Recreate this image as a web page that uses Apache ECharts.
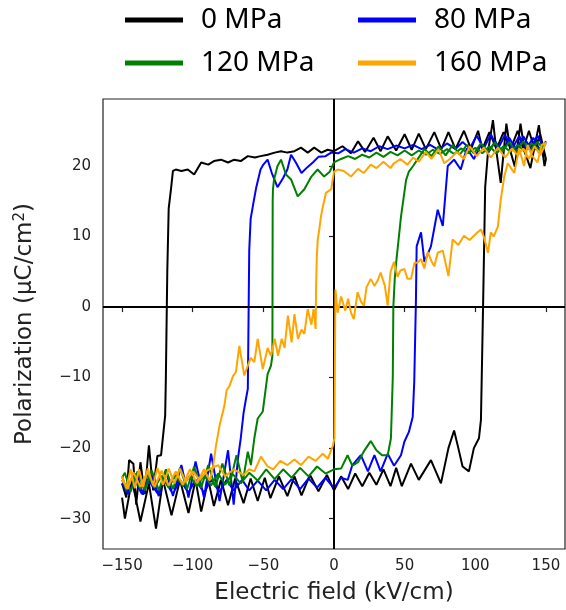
<!DOCTYPE html>
<html>
<head>
<meta charset="utf-8">
<script src="https://cdn.jsdelivr.net/npm/echarts@6/dist/echarts.min.js"></script>
<style>
html, body { margin: 0; padding: 0; background: #fff; }
#chart { width: 566px; height: 610px; }
</style>
</head>
<body>
<div id="chart"></div>
<script>
// P-E loops: field in kV/cm, polarization in uC/cm2
// each loop: rising branch from -150 to 150, then falling branch back to -150
var field0 = [-150,-148,-143,-137,-131,-126,-121,-115,-109,-103,-98,-94,-89,-85,-80,-75,-70,-64,-59,-54,-49,-45,-39,-33,-28,-23,-17,-11,-5,0,5,10,15,20,25,30,35,40,44,48,54.5,60,68.6,75.7,81,85,88,91,95.5,99,102.6,104,105.5,107,109,112.5,115,118,122,125,128,132,135,139,145,149,150,
  146,142,138,134,130,125,120,115,110,105,102,97,92,86,81,76,71,65,60,55,50,44,38,33,28,22,17,12,6,0,-4.5,-9,-14,-18.6,-23.4,-28,-33,-37.5,-42,-47,-52,-56,-61,-66,-70.6,-75,-80,-85,-89,-94,-99,-103.5,-108,-112,-114,-115.4,-117,-118,-119,-119.5,-122.4,-125,-128,-131,-134,-137,-140,-142,-145,-147,-150];
var pol0 = [-27,-30,-24.5,-30.4,-25,-31.4,-24.5,-29.5,-24.5,-29.2,-24.5,-29,-24.5,-28.2,-24.5,-28.1,-24.3,-27.8,-24.3,-27.5,-24.2,-27.1,-24,-26.8,-24,-26.7,-23.8,-26.1,-23.8,-26,-24,-25.8,-23.6,-25.4,-23.5,-25.2,-23,-25.4,-22.8,-25.4,-22.2,-24.5,-21.7,-25,-20,-17.5,-20,-22.6,-23.3,-20,-18.6,-16,0,17,22,26.5,22,17.6,26,22,19.9,26,22,19.7,25.8,20,21,
  24.5,22.3,25,22.4,25,22.4,24.8,22.4,24.8,22.4,25,22.4,25,22.4,24.8,22.4,24.8,22.4,24.6,22.3,24.5,22.2,24.2,22.1,24,22,23.5,21.8,22.8,22.1,22.3,21.9,22.6,21.9,22.6,22.1,21.9,22.1,21.9,21.6,21.4,21.2,21.4,20.7,20.9,20.5,20.9,20.7,20.2,20.5,18.8,19.5,19.3,19.5,19.3,16.7,14,5,-10,-15.4,-21,-21.1,-26,-19.6,-26.5,-22,-28,-22.2,-21.7,-27,-25];

var field80 = [-150,-146,-141,-136,-131,-125,-120,-114,-109,-103,-98,-92,-87,-81,-76,-71,-65,-60,-54,-48,-42,-36,-30,-24,-18,-12,-6,0,5,9.7,13,19,24,28.6,33,38,42.5,47.4,49.8,53,55.7,56.8,58,58.5,61.6,64,68.6,73.4,77,80.5,85,89.7,94,99,104,109,114,119,124,129,134,139,144,148,150,
  146,141,136,131,126,121,116,111,106,101,96,91,86,80,74,68,62,56,50,44,38,32,26,20,14,8,3,-2,-6,-11,-15,-19,-23,-27,-30.4,-33,-36,-40,-44,-47,-50,-52,-55,-57,-59,-60,-60.5,-61,-62.3,-64,-66,-68,-71,-75,-81,-87,-92,-98,-103,-108,-114,-119,-124,-130,-135,-140,-145,-150];
var pol80 = [-25,-26.5,-24.5,-26.5,-24.6,-26.4,-24.5,-26.5,-24.5,-26.3,-24.5,-26.3,-24.5,-26.2,-24.5,-26,-24.5,-26,-24.6,-26,-24.5,-25.8,-24.4,-25.8,-24.3,-25.6,-24.2,-25.7,-24.2,-24.5,-22.4,-21,-23.3,-21,-23.3,-20.8,-22.5,-21,-19.1,-17.7,-15.6,-10.6,1,8.6,10.6,6.4,8.6,13.8,11.5,20,20.9,19.5,22.5,21,23,21.8,23.5,22,24,22.3,24.2,22.5,24.3,22.8,23.5,
  22.2,24,22.4,24.2,22.4,24.4,22.4,24.5,22.5,24.3,22.5,23.4,22.4,23.2,22.3,23,22.4,23,22.5,22.9,22.4,22.8,22.1,22.5,21.9,22.4,21.8,21.9,21.4,21.3,20.5,19.8,19,20.5,21.6,19.5,18.3,17,19,20.9,20.2,19.5,17,14.8,12.5,8,-2,-11.6,-13,-15,-18.6,-21.5,-28,-20.3,-27.5,-20.8,-27,-21.9,-27,-22.4,-26.8,-23.2,-26.8,-23.4,-26.6,-23.6,-26.2,-24.5];

var field120 = [-150,-147,-142,-137,-132,-127,-122,-117,-112,-107,-102,-97,-92,-87,-82,-77,-72,-66,-60,-54,-48,-42,-36,-30,-24,-18,-12,-6,0,5,9.6,13,17,21,26,30,34,38,40.3,41.6,42,43,44,47.4,51,53,56,59,64,69,74,79,84,89,94,99,104,109,114,119,124,129,134,139,144,148,150,
  145,140,135,130,125,120,115,110,105,100,95,90,85,80,75,70,65,60,55,50,45,40,35,30,25,20,15,10,5,0,-3,-7,-11.6,-16,-21,-25.7,-30.4,-34,-37.5,-40,-42.5,-43.2,-43.4,-43.5,-43.6,-44.6,-47,-50.4,-54,-56.4,-58.8,-61,-64.6,-69,-74,-79,-84,-89,-94,-99,-104,-109,-114,-119,-124,-129,-134,-139,-144,-148,-150];
var pol120 = [-24,-26,-23.8,-25.8,-23.8,-25.6,-23.9,-25.6,-23.8,-25.4,-23.9,-25.4,-23.8,-25.3,-23.6,-25.2,-23.6,-25,-23.5,-24.6,-23,-24.4,-23,-24.2,-22.8,-24,-22.6,-23.6,-23,-22.9,-21,-22.5,-22,-20.5,-19,-20.3,-21,-21,-18.6,-10,0,4,6.3,12.8,18,19.2,20,20.9,22.4,21.4,22.8,21.5,23,21.6,23,21.8,23.2,22,23.3,22,23.4,22,23.5,22.2,23.4,22.5,23.3,
  22.3,23.2,22,23,22,22.8,21.8,22.8,21.8,22.6,21.8,22.5,21.7,22.4,21.7,22.3,21.6,22.2,21.5,22.2,21.5,22,21.3,21.9,21.2,21.6,21,21.4,21,20.5,19.2,18.5,19.5,18.5,16.7,15.7,18.1,18.8,20.9,20,18,16.7,15,5,-6.9,-8.3,-9.5,-14.8,-15.8,-18.6,-22.4,-20.5,-24.8,-21,-25.3,-22.2,-25.5,-22.4,-25.6,-22.6,-25.8,-22.8,-25.8,-23,-26,-23.2,-26,-23.3,-26.2,-23.5,-24.2];

var field160 = [-150,-147,-144,-141,-138,-135,-131.8,-128,-125,-121,-117,-113,-109,-105,-100,-95,-90,-82,-77,-71,-64,-60,-56.4,-51.7,-47,-43,-38,-33,-28,-23.4,-18,-13,-8,-4.3,-0.7,0.3,1,2.6,5,8,10,12,14,16.7,19,21.2,23,26,28.6,31,33,36,38,40,42.5,45,47,49.8,52,54.5,57,59,61.6,64,66.4,69,71,73.4,77,81,84,88,92,96,101.6,104,106,109,111,113,116,118,120.5,123,127.6,131,134.5,137,140,144,147,150,
  146,142,138,134,130,126,121,116,111,106,101,96,92,87,82,78,74,69,65,60,56,52,47,42,40,35,30,26,21,17,12,7,2.8,0,-2,-5.7,-7.8,-9.2,-10.4,-11.5,-12.2,-12.7,-13,-14.5,-16,-18.6,-21,-23,-25.5,-28,-30,-32.6,-35,-37,-39.6,-42,-44.6,-47,-50.4,-54,-56.4,-59,-63.5,-67,-69.4,-71.5,-74,-76,-77.6,-81,-83.5,-85.8,-88,-92,-97,-102,-107,-112,-117,-122,-127,-132,-137,-142,-146,-150];
var pol160 = [-24,-25.7,-23,-25.7,-23,-25.5,-22.9,-25.3,-22.8,-25.2,-22.9,-25,-22.9,-24.8,-23.3,-24.5,-23.2,-22.4,-24,-23,-23.8,-23,-23.3,-21.2,-22.6,-23,-21.8,-22.4,-21.6,-22.4,-21.2,-21.8,-20.8,-21.5,-19.6,-18.6,2.5,-0.8,1.5,-0.5,1.2,-0.8,-1.7,2.1,0.8,0.2,2.8,4,3,3.8,4.9,3,0.2,5,6.4,4.3,5.2,5.4,4,4,6.3,6.3,6.8,5.5,7.8,6.5,5.8,7.7,8,4.4,9.6,8.8,10.1,9.5,10.6,11,10,7.7,10.6,10,11.4,15.2,18.5,20.4,19,22.5,20,23,21.5,20.5,23,23.3,
  21.5,22.8,21,22.5,21.5,22.5,21.2,22.6,21.2,22.6,21.4,22.8,21,22,21,20.4,22.4,21,22,20.6,21.2,20.2,21,20.3,19.7,20.6,19.7,20.2,19,19.6,18.5,19.3,19.5,19.2,16.7,16.2,14.3,12.9,11,9.6,7,2.5,-3.1,-0.3,-2.5,-0.3,-3.8,-3.2,-4.5,-1,-5,-1.2,-5.8,-4.5,-6.9,-4.5,-6.9,-5.8,-8.8,-4.5,-7.8,-7.2,-9.7,-5.5,-9.2,-9.8,-11.2,-11.8,-14,-16.8,-19.6,-22.9,-24.6,-23,-25,-23,-25.2,-23.3,-25.3,-23.2,-25.5,-23.3,-25.5,-23.4,-25.8,-24.5];

var seriesNames = ['0 MPa', '80 MPa', '120 MPa', '160 MPa'];
var seriesColors = ['#000000', '#0000ff', '#008000', '#ffa500'];
var xTicks = [-150, -100, -50, 0, 50, 100, 150];
var yTicks = [-30, -20, -10, 0, 10, 20];

function pairs(xs, ys) {
    var out = [];
    for (var i = 0; i < xs.length; i++) {
        out.push([xs[i], ys[i]]);
    }
    return out;
}

function minusLabel(v) {
    return v < 0 ? '\u2212' + Math.abs(v) : String(v);
}

var loops = [pairs(field0, pol0), pairs(field80, pol80), pairs(field120, pol120), pairs(field160, pol160)];

var chart = echarts.init(document.getElementById('chart'), null, {renderer: 'canvas'});

var series = loops.map(function(loop, i) {
    var s = {
        name: seriesNames[i],
        type: 'line',
        data: loop,
        showSymbol: false,
        symbol: 'none',
        color: seriesColors[i],
        lineStyle: {width: 2, color: seriesColors[i]},
        z: 3 + i
    };
    if (i === 0) {
        s.markLine = {
            silent: true,
            symbol: 'none',
            label: {show: false},
            lineStyle: {color: '#000', width: 2, type: 'solid'},
            data: [{xAxis: 0}, {yAxis: 0}]
        };
    }
    return s;
});

var legendBase = {
    icon: 'rect',
    itemWidth: 58,
    itemHeight: 5,
    padding: 0,
    selectedMode: false,
    textStyle: {fontSize: 28, fontFamily: 'Noto Sans', color: '#000', padding: [0, 0, 0, 13]}
};
var legendSpots = [[125, 6], [358, 6], [125, 49], [358, 49]];

var option = {
    animation: false,
    backgroundColor: '#fff',
    legend: seriesNames.map(function(n, i) {
        return Object.assign({}, legendBase, {data: [n], left: legendSpots[i][0], top: legendSpots[i][1]});
    }),
    grid: {
        left: 103, top: 99, width: 462, height: 452,
        show: true, borderColor: '#222', borderWidth: 1.2
    },
    xAxis: {
        type: 'value',
        min: -163.5,
        max: 163.5,
        name: 'Electric field (kV/cm)',
        nameLocation: 'middle',
        nameGap: 33,
        nameTextStyle: {fontSize: 23, fontFamily: 'DejaVu Sans', color: '#222'},
        axisLine: {show: false},
        splitLine: {show: false},
        axisTick: {show: true, length: 5, lineStyle: {color: '#222', width: 1.2}, customValues: xTicks},
        axisLabel: {
            customValues: xTicks, margin: 10, fontSize: 15,
            fontFamily: 'DejaVu Sans', color: '#222', formatter: minusLabel
        }
    },
    yAxis: {
        type: 'value',
        min: -34.3,
        max: 29.5,
        name: 'Polarization (\u03bcC/cm{sup|2})',
        nameLocation: 'middle',
        nameGap: 65,
        nameTextStyle: {
            fontSize: 23, fontFamily: 'DejaVu Sans', color: '#222',
            rich: {sup: {fontSize: 15, fontFamily: 'DejaVu Sans', color: '#222', verticalAlign: 'bottom', padding: [0, 0, 10, 0]}}
        },
        axisLine: {show: false},
        splitLine: {show: false},
        axisTick: {show: true, length: 5, lineStyle: {color: '#222', width: 1.2}, customValues: yTicks},
        axisLabel: {
            customValues: yTicks, margin: 12, fontSize: 15,
            fontFamily: 'DejaVu Sans', color: '#222', formatter: minusLabel
        }
    },
    series: series
};

chart.setOption(option);
</script>
</body>
</html>
